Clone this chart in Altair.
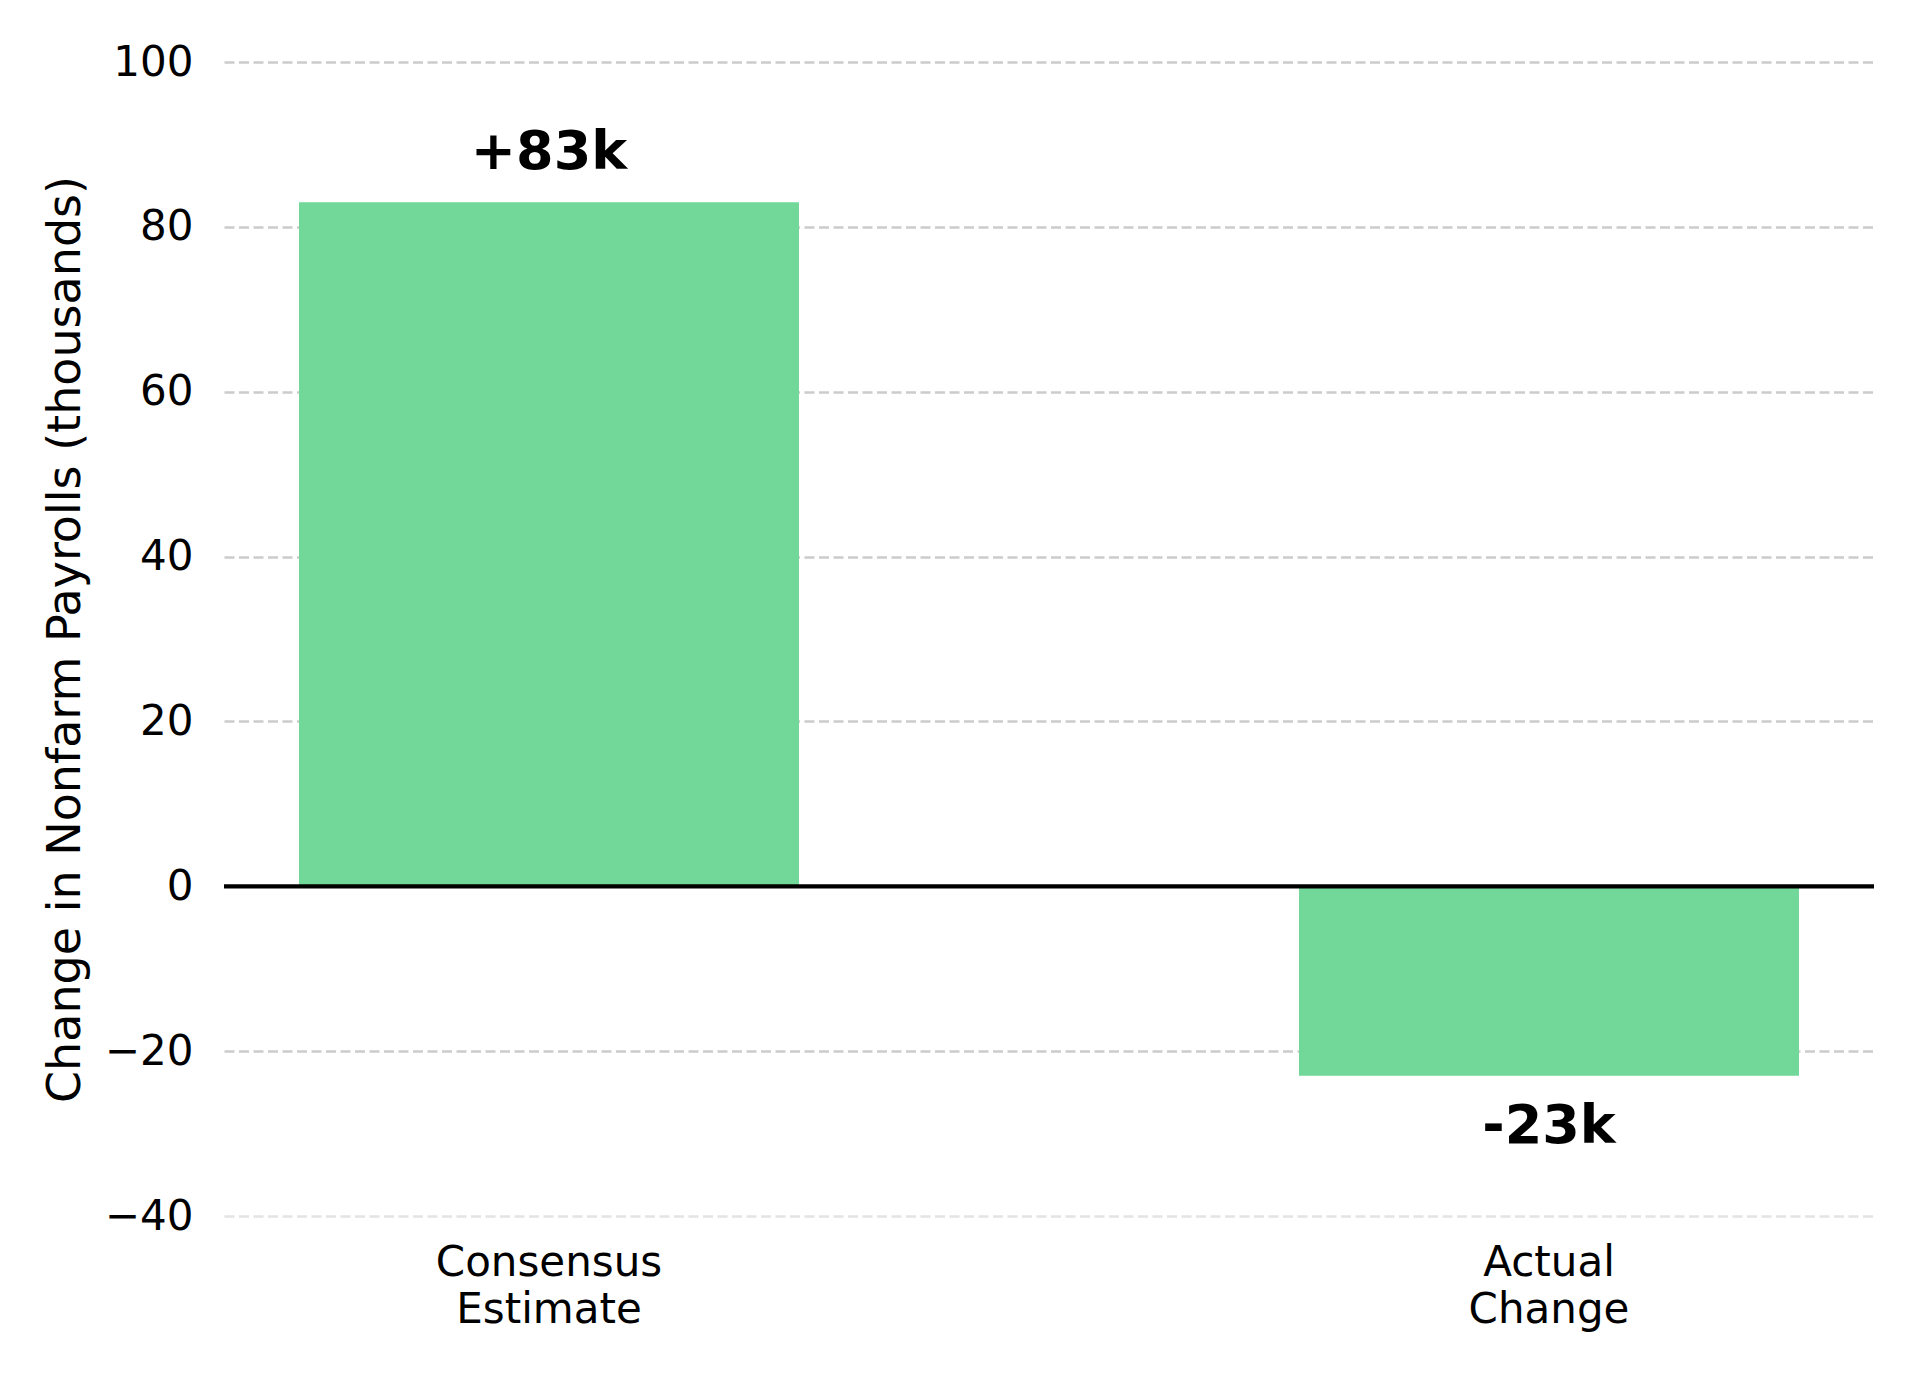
import altair as alt
import pandas as pd

categories = ["Consensus Estimate", "Actual Change"]
values = [83, -23]
value_labels = ["+83k", "-23k"]
y_ticks = [-40, -20, 0, 20, 40, 60, 80, 100]

df = pd.DataFrame({"category": categories, "value": values, "label": value_labels})

FONT = "DejaVu Sans"
BAR_COLOR = "#71d899"

x_enc = alt.X(
    "category:N",
    sort=categories,
    scale=alt.Scale(paddingInner=0.5, paddingOuter=0.075),
    axis=alt.Axis(
        title=None,
        labelAngle=0,
        labelExpr="split(datum.label, ' ')",
        labelFont=FONT,
        labelFontSize=42,
        labelLineHeight=47,
        labelColor="#000000",
        labelPadding=26,
        labelBaseline="top",
        labelLimit=0,
        ticks=False,
        tickSize=0,
        domain=False,
        grid=False,
    ),
)

y_scale = alt.Scale(domain=[-40, 100], nice=False, zero=False)

bars = alt.Chart(df).mark_bar(color=BAR_COLOR).encode(
    x=x_enc,
    y=alt.Y(
        "value:Q",
        scale=y_scale,
        axis=alt.Axis(
            title="Change in Nonfarm Payrolls (thousands)",
            values=y_ticks,
            titleFont=FONT,
            titleFontSize=46,
            titleFontWeight="normal",
            titleColor="#000000",
            titleAngle=270,
            titleBaseline="alphabetic",
            titleX=-145,
            titleY=577,
            labelFont=FONT,
            labelFontSize=42,
            labelColor="#000000",
            labelPadding=31,
            ticks=False,
            tickSize=0,
            domain=False,
            grid=True,
            gridColor=alt.condition("datum.value == -40", alt.value("#e4e4e4"), alt.value("#cccccc")),
            gridDash=[10, 4.5],
            gridWidth=2.7,
        ),
    ),
    y2=alt.datum(0),
)

zero_line = alt.Chart(pd.DataFrame({"zero": [0]})).mark_rule(
    color="#000000", strokeWidth=4.3
).encode(y=alt.Y("zero:Q", scale=y_scale))

pos_text = alt.Chart(df).transform_filter("datum.value >= 0").mark_text(
    font=FONT, fontSize=54, fontWeight="bold", color="#000000",
    baseline="alphabetic", align="center", dy=-33
).encode(
    x=alt.X("category:N", sort=categories),
    y=alt.Y("value:Q", scale=y_scale),
    text="label:N",
)

neg_text = alt.Chart(df).transform_filter("datum.value < 0").mark_text(
    font=FONT, fontSize=54, fontWeight="bold", color="#000000",
    baseline="alphabetic", align="center", dy=67
).encode(
    x=alt.X("category:N", sort=categories),
    y=alt.Y("value:Q", scale=y_scale),
    text="label:N",
)

chart = alt.layer(bars, zero_line, pos_text, neg_text).properties(
    width=1650,
    height=1154,
    autosize=alt.AutoSizeParams(type="none"),
    padding={"left": 216, "top": 54, "right": 38, "bottom": 156},
    background="#ffffff",
).configure_view(stroke=None)

chart.save("out.html", embed_options={"renderer": "svg", "actions": False})
